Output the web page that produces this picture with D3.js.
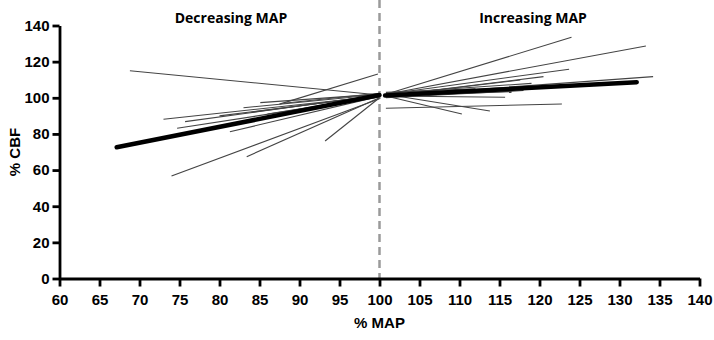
<!DOCTYPE html>
<html>
<head>
<meta charset="utf-8">
<script src="https://cdn.jsdelivr.net/npm/d3@7"></script>
<style>
  body { margin: 0; background: #fff; }
  svg { display: block; }
</style>
</head>
<body>
<div id="chart"></div>
<script>
// x ticks (% MAP) and y ticks (% CBF)
const xTicks = d3.range(60, 141, 5);
const yTicks = d3.range(0, 141, 20);

// individual studies, decreasing MAP: [x1, y1, x2, y2]
const decreasingLines = [
  [68.8, 115.0, 100, 101.5],
  [73.0, 88.1, 100, 101.0],
  [75.7, 86.8, 100, 101.5],
  [74.7, 83.1, 100, 100.5],
  [74.0, 56.7, 100, 99.5],
  [83.4, 67.4, 100, 100.0],
  [81.3, 81.2, 100, 100.8],
  [85.1, 97.3, 100, 102.0],
  [83.0, 94.5, 100, 101.8],
  [93.2, 76.1, 100, 100.0],
  [87.5, 96.5, 99.8, 113.2],
  [80.0, 90.0, 100, 101.2],
  [88.0, 97.0, 100, 102.5],
  [86.0, 91.0, 100, 101.0],
  [90.0, 93.0, 100, 102.0],
  [84.0, 92.0, 100, 101.4]
];

// individual studies, increasing MAP
const increasingLines = [
  [100.8, 102.0, 124.0, 133.5],
  [100.8, 102.0, 133.3, 128.7],
  [100.8, 102.0, 123.7, 115.8],
  [100.8, 101.0, 134.2, 111.7],
  [100.8, 101.0, 120.5, 111.7],
  [100.8, 101.0, 117.6, 109.8],
  [100.8, 101.0, 116.5, 103.4],
  [100.8, 101.0, 115.7, 100.3],
  [100.8, 94.2, 122.8, 96.6],
  [100.8, 102.0, 113.8, 92.7],
  [100.8, 101.0, 110.3, 91.0],
  [100.8, 103.0, 112.0, 105.0],
  [100.8, 100.0, 118.0, 104.0],
  [100.8, 102.5, 119.0, 108.0]
];

// pooled regression lines
const meanDecreasing = [67.15, 72.6, 100, 101.5];
const meanIncreasing = [100.7, 101.2, 132.15, 108.6];

const width = 714, height = 340;
const margin = { top: 25.5, right: 14.5, bottom: 61.5, left: 59.5 };

const svg = d3.select("#chart")
  .append("svg")
  .attr("width", width)
  .attr("height", height);

const x = d3.scaleLinear().domain([60, 140]).range([margin.left, width - margin.right]);
const y = d3.scaleLinear().domain([0, 140]).range([height - margin.bottom, margin.top]);

// dashed reference line at 100%
svg.append("line")
  .attr("x1", x(100)).attr("x2", x(100))
  .attr("y1", 0).attr("y2", y(0))
  .attr("stroke", "#9a9a9a")
  .attr("stroke-width", 2.5)
  .attr("stroke-dasharray", "8,5");

// thin study lines
const thin = decreasingLines.concat(increasingLines);
svg.selectAll(".study")
  .data(thin)
  .enter()
  .append("line")
  .attr("class", "study")
  .attr("x1", d => x(d[0]))
  .attr("y1", d => y(d[1]))
  .attr("x2", d => x(d[2]))
  .attr("y2", d => y(d[3]))
  .attr("stroke", "#444")
  .attr("stroke-width", 1.1);

// thick mean lines
svg.selectAll(".mean")
  .data([meanDecreasing, meanIncreasing])
  .enter()
  .append("line")
  .attr("class", "mean")
  .attr("x1", d => x(d[0]))
  .attr("y1", d => y(d[1]))
  .attr("x2", d => x(d[2]))
  .attr("y2", d => y(d[3]))
  .attr("stroke", "#000")
  .attr("stroke-width", 4.5)
  .attr("stroke-linecap", "round");

// axes
const xAxis = d3.axisBottom(x).tickValues(xTicks).tickSize(8).tickSizeOuter(0);
const yAxis = d3.axisLeft(y).tickValues(yTicks).tickSize(7).tickSizeOuter(0);

const gx = svg.append("g")
  .attr("transform", "translate(0," + y(0) + ")")
  .call(xAxis);
const gy = svg.append("g")
  .attr("transform", "translate(" + x(60) + ",0)")
  .call(yAxis);

[gx, gy].forEach(g => {
  g.select(".domain").attr("stroke", "#000").attr("stroke-width", 2.8);
  g.selectAll(".tick line").attr("stroke", "#000").attr("stroke-width", 2.8);
  g.selectAll(".tick text")
    .attr("fill", "#000")
    .style("font-family", "'Liberation Sans', Arial, sans-serif")
    .style("font-weight", "bold")
    .style("font-size", "15px");
});
gx.selectAll(".tick text").attr("dy", "1.05em");
gy.selectAll(".tick text").attr("x", -10);

// axis titles
svg.append("text")
  .attr("x", x(100))
  .attr("y", 328)
  .attr("text-anchor", "middle")
  .style("font-family", "'Liberation Sans', Arial, sans-serif")
  .style("font-weight", "bold")
  .style("font-size", "15px")
  .text("% MAP");

svg.append("text")
  .attr("transform", "translate(20," + y(70) + ") rotate(-90)")
  .attr("text-anchor", "middle")
  .style("font-family", "'Liberation Sans', Arial, sans-serif")
  .style("font-weight", "bold")
  .style("font-size", "15px")
  .text("% CBF");

// panel labels
svg.append("text")
  .attr("x", 231)
  .attr("y", 23)
  .attr("text-anchor", "middle")
  .style("font-family", "'Open Sans', sans-serif")
  .style("font-weight", "bold")
  .style("font-size", "14px")
  .text("Decreasing MAP");

svg.append("text")
  .attr("x", 533)
  .attr("y", 23)
  .attr("text-anchor", "middle")
  .style("font-family", "'Open Sans', sans-serif")
  .style("font-weight", "bold")
  .style("font-size", "14px")
  .text("Increasing MAP");
</script>
</body>
</html>
